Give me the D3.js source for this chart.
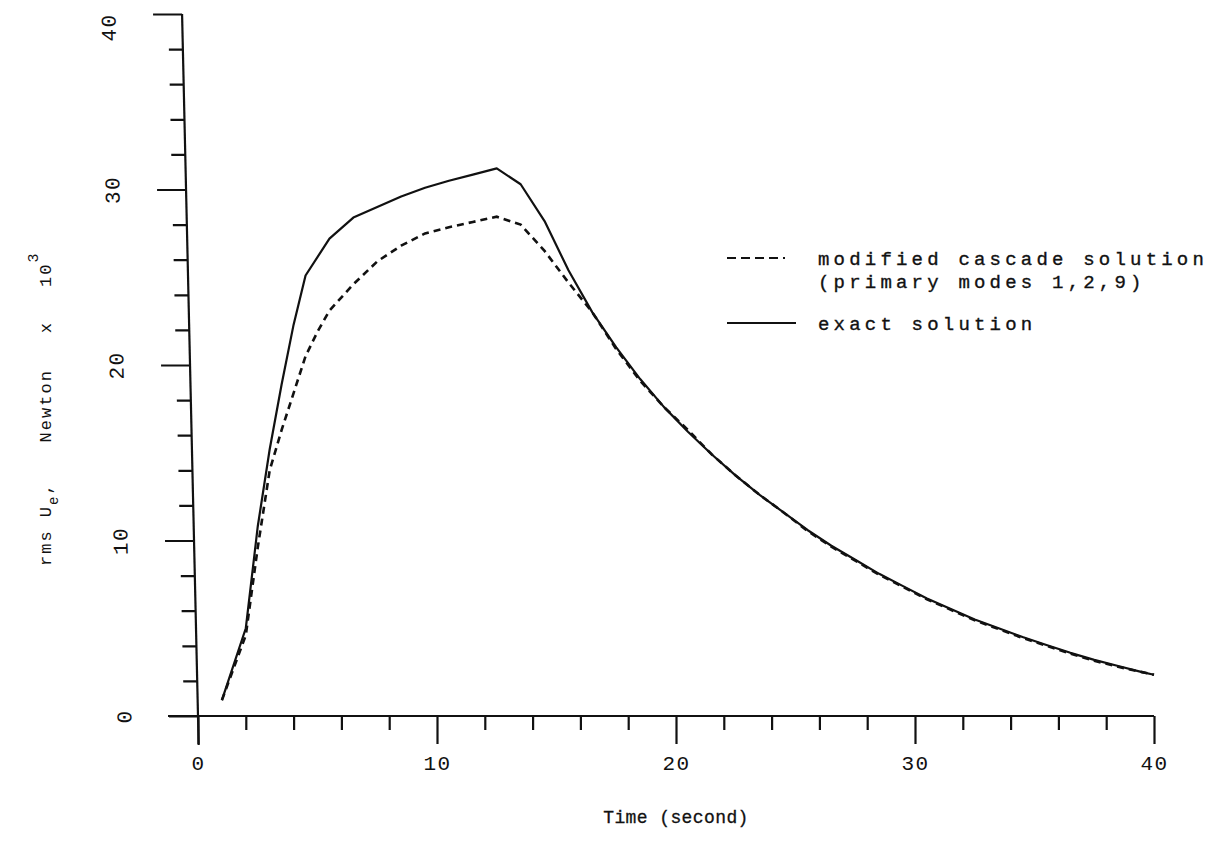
<!DOCTYPE html>
<html>
<head>
<meta charset="utf-8">
<script src="https://cdn.jsdelivr.net/npm/d3@7/dist/d3.min.js"></script>
<style>
  html, body { margin: 0; padding: 0; background: #fff; }
  svg { display: block; }
  text { fill: #111; font-family: "Liberation Mono", "DejaVu Sans Mono", monospace; }
</style>
</head>
<body>
<svg id="chart" width="1225" height="857"></svg>
<script>
// ---- data ----
const exactTime = [1, 2, 2.5, 3, 3.5, 4, 4.5, 5.5, 6.5, 7.5, 8.5, 9.5, 10.5, 11.5, 12.5, 13.5, 14.5, 15.5, 16.5, 17.5, 18.5, 19.5, 20.5, 21.5, 22.5, 23.5, 24.5, 25.5, 26.5, 27.5, 28.5, 29.5, 30.5, 31.5, 32.5, 33.5, 34.5, 35.5, 36.5, 37.5, 38.5, 39.5, 40];
const exactValue = [0.9, 5.0, 10.8, 15.2, 18.9, 22.3, 25.1, 27.2, 28.4, 29.0, 29.6, 30.1, 30.5, 30.85, 31.2, 30.3, 28.2, 25.4, 23.0, 21.0, 19.2, 17.6, 16.2, 14.9, 13.7, 12.6, 11.6, 10.6, 9.7, 8.9, 8.1, 7.4, 6.7, 6.1, 5.5, 5.0, 4.5, 4.05, 3.6, 3.2, 2.85, 2.5, 2.35];
const cascadeTime = [1, 2, 2.5, 3, 3.5, 4, 4.5, 5, 5.5, 6.5, 7.5, 8.5, 9.5, 10.5, 11.5, 12.5, 13.5, 14.5, 15.5, 16.5, 17.5, 18.5, 19.5, 20.5, 21.5, 22.5, 23.5, 24.5, 25.5, 26.5, 27.5, 28.5, 29.5, 30.5, 31.5, 32.5, 33.5, 34.5, 35.5, 36.5, 37.5, 38.5, 39.5, 40];
const cascadeValue = [0.9, 4.6, 9.6, 14.0, 16.3, 18.4, 20.5, 21.9, 23.1, 24.6, 25.9, 26.8, 27.5, 27.85, 28.15, 28.45, 28.0, 26.5, 24.7, 23.0, 20.9, 19.1, 17.6, 16.3, 14.9, 13.7, 12.6, 11.6, 10.55, 9.65, 8.85, 8.05, 7.35, 6.65, 6.05, 5.45, 4.95, 4.45, 4.0, 3.55, 3.15, 2.8, 2.5, 2.35];
const xMajorTicks = [0, 10, 20, 30, 40];
const xMinorTicks = [2, 4, 6, 8, 12, 14, 16, 18, 22, 24, 26, 28, 32, 34, 36, 38];
const yMajorTicks = [0, 10, 20, 30, 40];
const yMinorTicks = [2, 4, 6, 8, 12, 14, 16, 18, 22, 24, 26, 28, 32, 34, 36, 38];
const legendLabels = ["modified cascade solution", "(primary modes 1,2,9)", "exact solution"];
const xTitle = "Time (second)";

// ---- drawing ----
const svg = d3.select("#chart");
const x = d3.scaleLinear().domain([0, 40]).range([198, 1154]);
const y = d3.scaleLinear().domain([0, 40]).range([716, 14]);
const ink = "#111";
const tickFont = "'DejaVu Sans Mono', monospace";

// x axis
const gx = svg.append("g").attr("transform", `translate(0,${y(0)})`);
gx.append("g").call(d3.axisBottom(x).tickValues(xMinorTicks).tickSize(14).tickFormat(""))
  .call(g => g.select(".domain").remove());
gx.append("g").call(d3.axisBottom(x).tickValues(xMajorTicks).tickSize(28).tickPadding(11).tickFormat(d3.format("d")))
  .call(g => g.select(".domain").remove());
gx.append("line").attr("x1", x(0) - 30).attr("x2", x(40)).attr("y1", 0).attr("y2", 0);
gx.selectAll("line").attr("stroke", ink).attr("stroke-width", 2.2);
gx.selectAll("text").attr("font-size", 21).attr("fill", ink)
  .attr("font-family", tickFont).attr("letter-spacing", 1.5);

// y axis (slightly slanted like the scanned original)
const gyOuter = svg.append("g")
  .attr("transform", `translate(${x(0)},${y(0)}) skewX(1.3) translate(${-x(0)},${-y(0)})`);
const gy = gyOuter.append("g").attr("transform", `translate(${x(0)},0)`);
gy.append("g").call(d3.axisLeft(y).tickValues(yMinorTicks).tickSize(14).tickFormat(""))
  .call(g => g.select(".domain").remove());
gy.append("g").call(d3.axisLeft(y).tickValues(yMajorTicks).tickSize(29).tickFormat(d3.format("d")))
  .call(g => g.select(".domain").remove())
  .call(g => g.selectAll("text")
      .attr("x", 0).attr("y", 0).attr("dy", "0.35em")
      .attr("text-anchor", "middle")
      .attr("transform", d => `translate(-74,${d === 40 ? 13 : 0}) rotate(-90)`));
gy.append("line").attr("x1", 0).attr("x2", 0).attr("y1", y(0) + 29).attr("y2", y(40));
gy.selectAll("line").attr("stroke", ink).attr("stroke-width", 2.2);
gy.selectAll("text").attr("font-size", 21).attr("fill", ink)
  .attr("font-family", tickFont).attr("letter-spacing", 1.5);

// curves
const line = d3.line().x(d => x(d[0])).y(d => y(d[1]));
const exact = exactTime.map((t, i) => [t, exactValue[i]]);
const cascade = cascadeTime.map((t, i) => [t, cascadeValue[i]]);
svg.append("path").datum(exact).attr("d", line)
  .attr("fill", "none").attr("stroke", ink).attr("stroke-width", 2.2).attr("stroke-linejoin", "round");
svg.append("path").datum(cascade).attr("d", line)
  .attr("fill", "none").attr("stroke", ink).attr("stroke-width", 2.6).attr("stroke-dasharray", "7,5");

// legend
const lg = svg.append("g");
lg.append("line").attr("x1", 727).attr("x2", 785).attr("y1", 258).attr("y2", 258)
  .attr("stroke", ink).attr("stroke-width", 2.2).attr("stroke-dasharray", "9,5");
lg.append("line").attr("x1", 727).attr("x2", 796).attr("y1", 323).attr("y2", 323)
  .attr("stroke", ink).attr("stroke-width", 1.8);
const legendPos = [[818, 265], [818, 288], [818, 330]];
lg.selectAll("text.leg").data(legendLabels).join("text").attr("class", "leg")
  .attr("x", (d, i) => legendPos[i][0]).attr("y", (d, i) => legendPos[i][1])
  .attr("font-size", 19).attr("letter-spacing", 4.2)
  .attr("stroke", ink).attr("stroke-width", 0.35).text(d => d);

// x title
svg.append("text").attr("x", 676).attr("y", 823).attr("text-anchor", "middle")
  .attr("font-size", 18).attr("letter-spacing", 0.4)
  .attr("stroke", ink).attr("stroke-width", 0.3).text(xTitle);

// y title (rotated, with subscript and superscript)
const yt = svg.append("text").attr("transform", "translate(51,566) rotate(-90)")
  .attr("text-anchor", "start").attr("font-size", 17).attr("letter-spacing", 2);
yt.append("tspan").text("rms U");
yt.append("tspan").attr("dy", 7).attr("font-size", 14).text("e");
yt.append("tspan").attr("dy", -7).text(",");
yt.append("tspan").attr("dx", 40).text("Newton");
yt.append("tspan").attr("dx", 36).text("x");
yt.append("tspan").attr("dx", 34).text("10");
yt.append("tspan").attr("dy", -13).attr("font-size", 15).text("3");
</script>
</body>
</html>
